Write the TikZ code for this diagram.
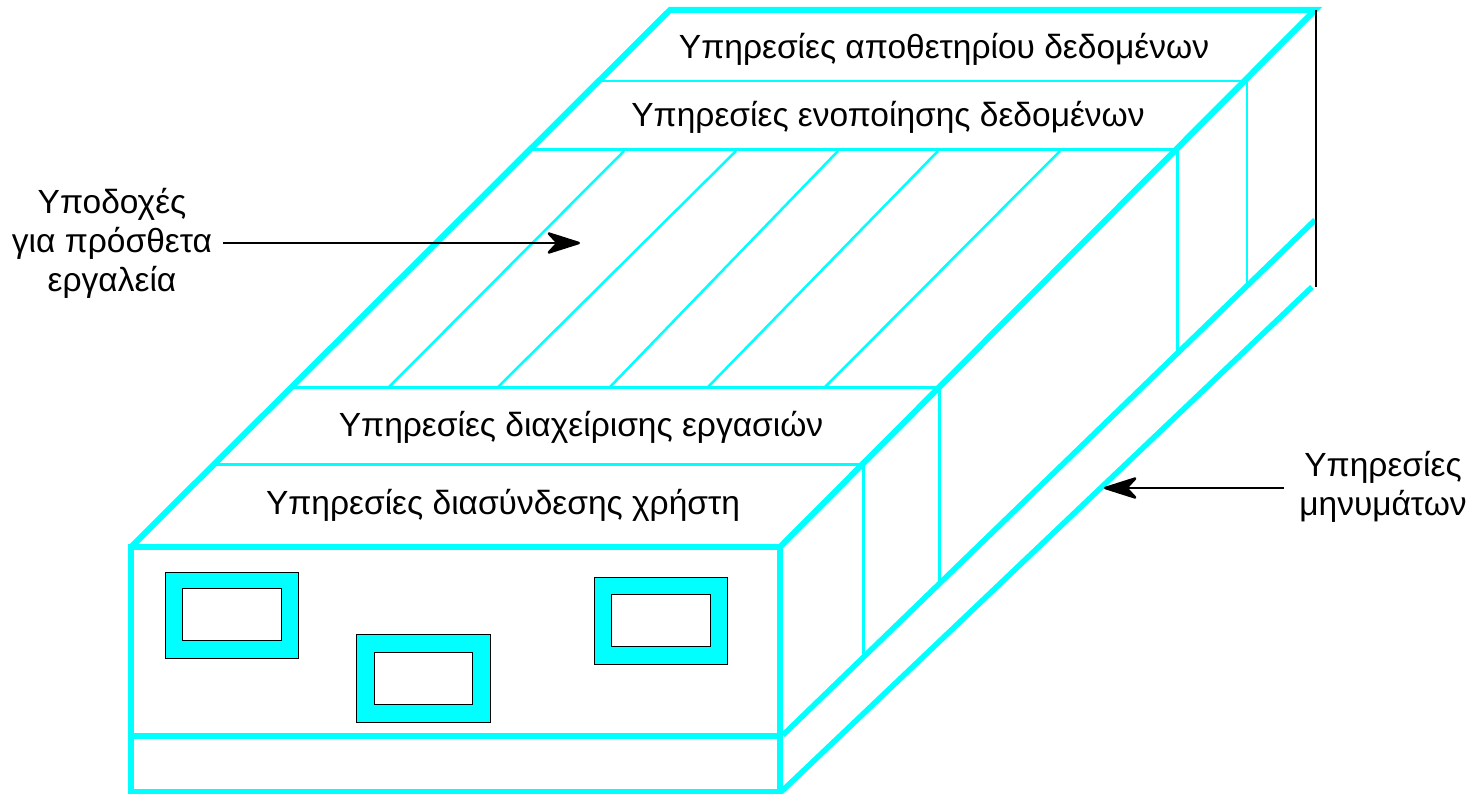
\documentclass[tikz,border=0pt]{standalone}
\usepackage{fontspec}
\setmainfont{Liberation Sans}
\usetikzlibrary{arrows.meta}
\definecolor{boxcyan}{RGB}{0,255,255}

\begin{document}
\begin{tikzpicture}[x=1pt,y=-1pt]
				\tikzstyle{every node}=[font=\fontsize{33.5}{39}\selectfont,inner sep=0pt]
				\tikzstyle{edge thick}=[boxcyan,line width=6pt,line cap=round]
				\tikzstyle{edge mid}=[boxcyan,line width=5.5pt]
				\tikzstyle{edge thin}=[boxcyan,line width=3pt]
				\tikzstyle{slot line}=[boxcyan,line width=2.5pt]
				\tikzstyle{card}=[black,line width=1pt]
				\tikzstyle{pointer}=[black,line width=2.5pt,-{Stealth[length=38pt,width=24pt,inset=11pt,round]}]
				\useasboundingbox (0,0) rectangle (1476,794);
				\coordinate (backleft) at (670,10);
				\coordinate (backright) at (1315,10);
				\coordinate (frontleft) at (131,547);
				\coordinate (frontright) at (780,547);
				\coordinate (midleft) at (131,736);
				\coordinate (midright) at (780,736);
				\coordinate (baseleft) at (131,792);
				\coordinate (baseright) at (780,792);
				\coordinate (railback) at (1315,220);
				\coordinate (railfront) at (783,735);
				\coordinate (lowback) at (1312,287);
				\coordinate (lowfront) at (781,792);
				% outline
				\draw[edge thick] (frontleft) -- (backleft) -- (backright) -- (frontright);
				\draw[edge thick] (frontleft) rectangle (baseright);
				\draw[edge thick] (midleft) -- (midright);
				\draw[edge mid] (railfront) -- (railback);
				\draw[edge mid] (lowfront) -- (lowback);
				\draw[black,line width=1.5pt] (1316,10) -- (1316,287);
				% bands on the top face
				\draw[slot line] (600,81) -- (1247,81) -- (1247,284);
				\draw[edge thin] (530,150) -- (1177,150) -- (1177,353);
				\draw[edge thin] (292,388) -- (939,388) -- (939,581);
				\draw[edge thin] (216,464) -- (863,464) -- (863,654);
				% slots
				\draw[slot line] (624,151) -- (388,388);
				\draw[slot line] (736,151) -- (497,388);
				\draw[slot line] (838,151) -- (609,388);
				\draw[slot line] (938,151) -- (707,388);
				\draw[slot line] (1060,151) -- (824,388);
				% cards on the front
				\draw[card,fill=boxcyan] (165,572) rectangle (298,658);
				\draw[card,fill=white] (182,588) rectangle (281,640);
				\draw[card,fill=boxcyan] (356,634) rectangle (490,722);
				\draw[card,fill=white] (374,652) rectangle (472,704);
				\draw[card,fill=boxcyan] (594,577) rectangle (727,664);
				\draw[card,fill=white] (611,594) rectangle (710,646);
				% labels
				\node (storage) at (944,49) {Υπηρεσίες αποθετηρίου δεδομένων};
				\node (integration) at (888,117) {Υπηρεσίες ενοποίησης δεδομένων};
				\node (taskmgmt) at (581,427) {Υπηρεσίες διαχείρισης εργασιών};
				\node (userif) at (503,505) {Υπηρεσίες διασύνδεσης χρήστη};
				\node[align=center] (slots) at (112,243) {Υποδοχές\\για πρόσθετα\\εργαλεία};
				\node[align=center] (messaging) at (1383,487) {Υπηρεσίες\\μηνυμάτων};
				\coordinate (slotstail) at (223,243);
				\coordinate (slotstip) at (580,243);
				\coordinate (messagingtail) at (1284,488);
				\coordinate (messagingtip) at (1104,488);
				\draw[pointer] (slotstail) -- (slotstip);
				\draw[pointer] (messagingtail) -- (messagingtip);
\end{tikzpicture}
\end{document}
